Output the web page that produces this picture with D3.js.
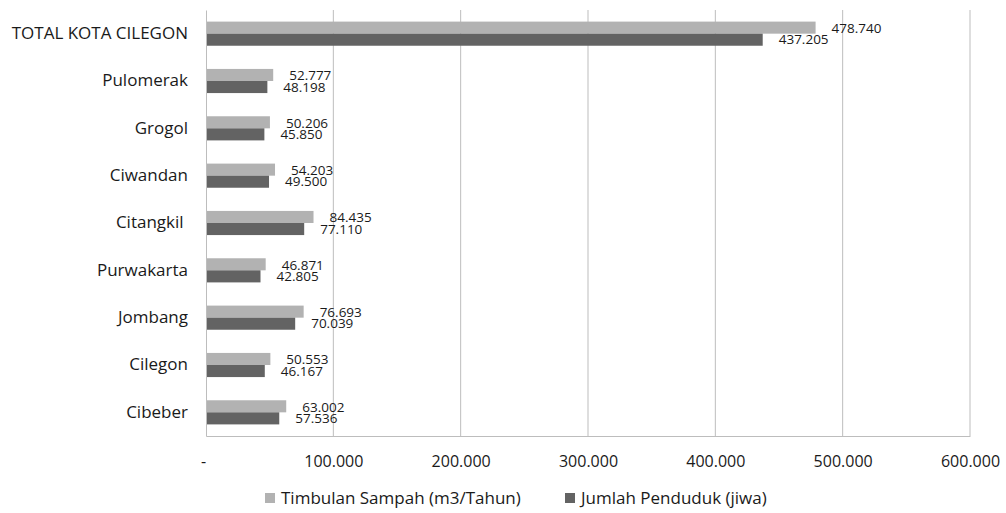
<!DOCTYPE html>
<html>
<head>
<meta charset="utf-8">
<script src="https://cdn.jsdelivr.net/npm/d3@7"></script>
<style>
  body { margin: 0; background: #fff; }
  text { font-family: "Open Sans", sans-serif; fill: #1a1a1a; }
</style>
</head>
<body>
<svg id="chart" width="1006" height="513"></svg>
<script>
const categories = ["TOTAL KOTA CILEGON", "Pulomerak", "Grogol", "Ciwandan", "Citangkil ", "Purwakarta", "Jombang", "Cilegon", "Cibeber"];
const timbulanSampah = [478740, 52777, 50206, 54203, 84435, 46871, 76693, 50553, 63002];
const jumlahPenduduk = [437205, 48198, 45850, 49500, 77110, 42805, 70039, 46167, 57536];
const xTicks = [0, 100000, 200000, 300000, 400000, 500000, 600000];
const seriesNames = ["Timbulan Sampah (m3/Tahun)", "Jumlah Penduduk (jiwa)"];
const seriesColors = ["#b2b2b2", "#636363"];

const margin = {top: 10, right: 36, bottom: 77, left: 206};
const width = 1006 - margin.left - margin.right;
const height = 513 - margin.top - margin.bottom;

const idLocale = d3.formatLocale({decimal: ",", thousands: ".", grouping: [3], currency: ["Rp", ""]});
const fmt = idLocale.format(",.0f");
const tickFmt = d => d === 0 ? "-" : fmt(d);

const svg = d3.select("#chart");
const g = svg.append("g").attr("transform", `translate(${margin.left},${margin.top})`);

const x = d3.scaleLinear().domain([0, 600000]).range([0, width]);
const y = d3.scaleBand().domain(categories).range([0, height]).paddingInner(0.49).paddingOuter(0.245);
const ySub = d3.scaleBand().domain([0, 1]).range([0, y.bandwidth()]);

// gridlines
g.append("g").selectAll("line")
  .data(xTicks.slice(1))
  .enter().append("line")
  .attr("x1", d => x(d)).attr("x2", d => x(d))
  .attr("y1", 0).attr("y2", height)
  .attr("stroke", "#bdbdbd").attr("stroke-width", 1);

// bars
const rows = categories.map((c, i) => ({cat: c, vals: [timbulanSampah[i], jumlahPenduduk[i]]}));
const grp = g.selectAll(".row").data(rows).enter().append("g")
  .attr("class", "row")
  .attr("transform", d => `translate(0,${y(d.cat)})`);

grp.selectAll("rect")
  .data(d => d.vals.map((v, k) => ({v, k})))
  .enter().append("rect")
  .attr("x", 0)
  .attr("y", d => ySub(d.k))
  .attr("width", d => x(d.v))
  .attr("height", ySub.bandwidth())
  .attr("fill", d => seriesColors[d.k]);

grp.selectAll("text.lbl")
  .data(d => d.vals.map((v, k) => ({v, k})))
  .enter().append("text")
  .attr("class", "lbl")
  .attr("x", d => x(d.v) + 16)
  .attr("y", d => ySub(d.k) + ySub.bandwidth() / 2 + (d.k === 0 ? 0.5 : 0))
  .attr("dy", "0.35em")
  .style("font-size", "13.5px")
  .text(d => fmt(d.v));

// axes
const xAxis = d3.axisBottom(x).tickValues(xTicks).tickSize(0).tickPadding(20).tickFormat(tickFmt);
const xg = g.append("g").attr("transform", `translate(0,${height})`).call(xAxis);
xg.select(".domain").attr("stroke", "#bdbdbd");
xg.selectAll("text").style("font-size", "16px").attr("fill", "#1a1a1a").style("font-family", "'Open Sans', sans-serif");
xg.selectAll(".tick").filter(d => d === 0).select("text").attr("dx", "-3");

const yAxis = d3.axisLeft(y).tickSize(0).tickPadding(18);
const yg = g.append("g").call(yAxis);
yg.select(".domain").attr("stroke", "#bdbdbd");
yg.selectAll("text").style("font-size", "17px").attr("fill", "#1a1a1a")
  .style("font-family", "'Open Sans', sans-serif").style("white-space", "pre");

// legend
const legend = svg.append("g").attr("transform", "translate(265,498)");
const legX = [0, 300];
seriesNames.forEach((name, i) => {
  const lg = legend.append("g").attr("transform", `translate(${legX[i]},0)`);
  lg.append("rect").attr("x", 0).attr("y", -5).attr("width", 10).attr("height", 10).attr("fill", seriesColors[i]);
  lg.append("text").attr("x", 16).attr("y", 0).attr("dy", "0.35em").style("font-size", "17px").text(name);
});
</script>
</body>
</html>
